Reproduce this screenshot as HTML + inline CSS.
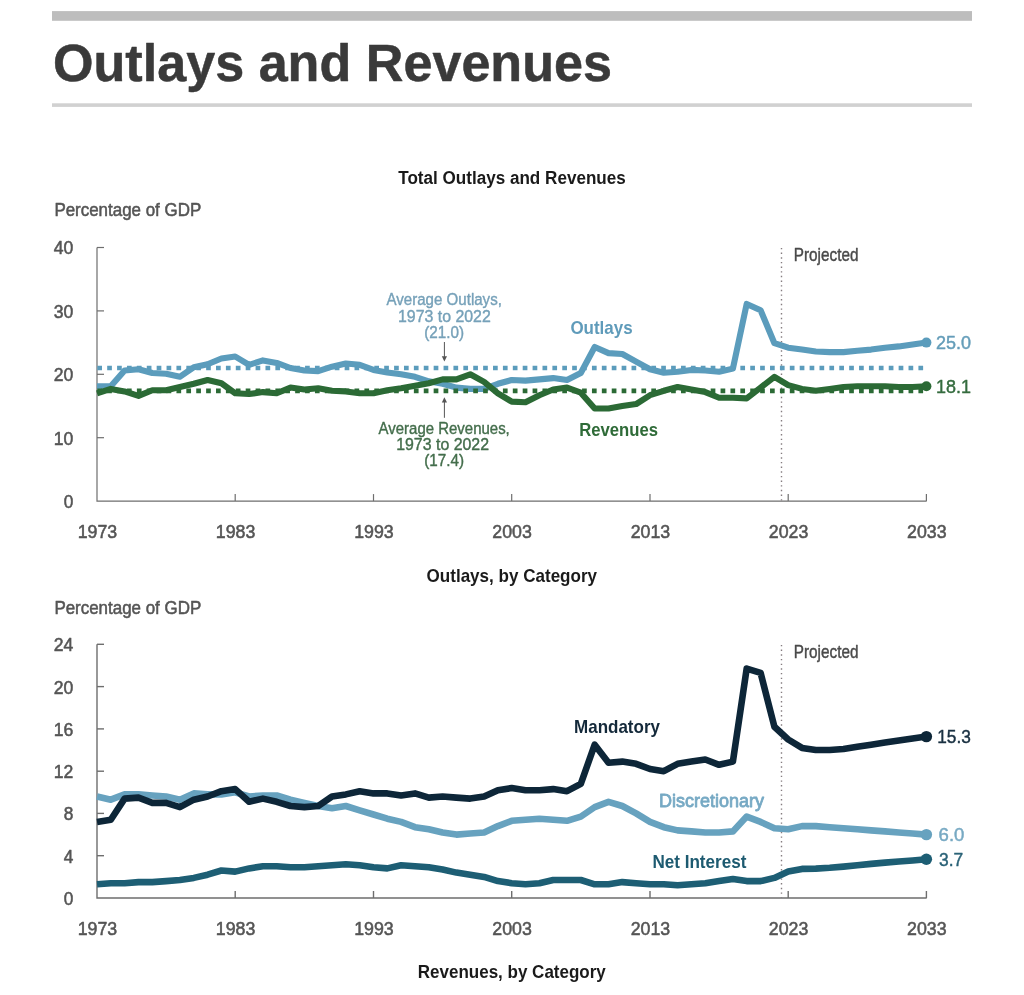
<!DOCTYPE html>
<html lang="en"><head><meta charset="utf-8"><title>Outlays and Revenues</title>
<style>
html,body{margin:0;padding:0;background:#fff;}
body{width:1024px;height:995px;overflow:hidden;position:relative;font-family:"Liberation Sans",Arial,Helvetica,sans-serif;}
svg{position:absolute;left:0;top:0;display:block;}
svg text{font-family:"Liberation Sans",Arial,Helvetica,sans-serif;}
</style></head><body>
<svg width="1024" height="995" viewBox="0 0 1024 995">
<rect x="0" y="0" width="1024" height="995" fill="#ffffff"/>
<rect x="52" y="11.1" width="920" height="9.7" fill="#bdbdbd"/>
<rect x="52" y="103.3" width="920" height="3.6" fill="#d1d1d1"/>
<text x="53" y="80.5" font-size="51" fill="#3a3a3a"  textLength="559" lengthAdjust="spacingAndGlyphs" font-weight="bold"  stroke="#3a3a3a" stroke-width="0.5" stroke-linejoin="round">Outlays and Revenues</text>
<text x="512" y="184" font-size="18" fill="#1a1a1a" text-anchor="middle" textLength="227.5" lengthAdjust="spacingAndGlyphs" font-weight="bold" >Total Outlays and Revenues</text>
<text x="54.4" y="215.7" font-size="18.7" fill="#555555"  textLength="146.8" lengthAdjust="spacingAndGlyphs"   stroke="#555555" stroke-width="0.55" stroke-linejoin="round">Percentage of GDP</text>
<g stroke="#6e6e6e" stroke-width="1.2" fill="none">
<path d="M97.0,247.5 V501.1 H926.7"/>
<path d="M97.0,437.7 h7"/>
<path d="M97.0,374.3 h7"/>
<path d="M97.0,310.9 h7"/>
<path d="M97.0,247.5 h7"/>
<path d="M235.2,501.1 v-7"/>
<path d="M373.5,501.1 v-7"/>
<path d="M511.7,501.1 v-7"/>
<path d="M650.0,501.1 v-7"/>
<path d="M788.2,501.1 v-7"/>
<path d="M926.4,501.1 v-7"/>
</g>
<text x="73.4" y="508.0" font-size="18.7" fill="#555555" text-anchor="end" textLength="9.6" lengthAdjust="spacingAndGlyphs"   stroke="#555555" stroke-width="0.55" stroke-linejoin="round">0</text>
<text x="73.4" y="444.6" font-size="18.7" fill="#555555" text-anchor="end" textLength="19.6" lengthAdjust="spacingAndGlyphs"   stroke="#555555" stroke-width="0.55" stroke-linejoin="round">10</text>
<text x="73.4" y="381.2" font-size="18.7" fill="#555555" text-anchor="end" textLength="19.6" lengthAdjust="spacingAndGlyphs"   stroke="#555555" stroke-width="0.55" stroke-linejoin="round">20</text>
<text x="73.4" y="317.8" font-size="18.7" fill="#555555" text-anchor="end" textLength="19.6" lengthAdjust="spacingAndGlyphs"   stroke="#555555" stroke-width="0.55" stroke-linejoin="round">30</text>
<text x="73.4" y="254.4" font-size="18.7" fill="#555555" text-anchor="end" textLength="19.6" lengthAdjust="spacingAndGlyphs"   stroke="#555555" stroke-width="0.55" stroke-linejoin="round">40</text>
<text x="97.4" y="538.2" font-size="18.7" fill="#555555" text-anchor="middle" textLength="39.5" lengthAdjust="spacingAndGlyphs"   stroke="#555555" stroke-width="0.55" stroke-linejoin="round">1973</text>
<text x="235.6" y="538.2" font-size="18.7" fill="#555555" text-anchor="middle" textLength="39.5" lengthAdjust="spacingAndGlyphs"   stroke="#555555" stroke-width="0.55" stroke-linejoin="round">1983</text>
<text x="373.9" y="538.2" font-size="18.7" fill="#555555" text-anchor="middle" textLength="39.5" lengthAdjust="spacingAndGlyphs"   stroke="#555555" stroke-width="0.55" stroke-linejoin="round">1993</text>
<text x="512.1" y="538.2" font-size="18.7" fill="#555555" text-anchor="middle" textLength="39.5" lengthAdjust="spacingAndGlyphs"   stroke="#555555" stroke-width="0.55" stroke-linejoin="round">2003</text>
<text x="650.4" y="538.2" font-size="18.7" fill="#555555" text-anchor="middle" textLength="39.5" lengthAdjust="spacingAndGlyphs"   stroke="#555555" stroke-width="0.55" stroke-linejoin="round">2013</text>
<text x="788.6" y="538.2" font-size="18.7" fill="#555555" text-anchor="middle" textLength="39.5" lengthAdjust="spacingAndGlyphs"   stroke="#555555" stroke-width="0.55" stroke-linejoin="round">2023</text>
<text x="926.8" y="538.2" font-size="18.7" fill="#555555" text-anchor="middle" textLength="39.5" lengthAdjust="spacingAndGlyphs"   stroke="#555555" stroke-width="0.55" stroke-linejoin="round">2033</text>
<path d="M781.5,247.95 V501.1" stroke="#857d80" stroke-width="1.4" stroke-dasharray="1.4 3.252" fill="none"/>
<text x="793.8" y="261.1" font-size="18.5" fill="#4a4a4a"  textLength="64.6" lengthAdjust="spacingAndGlyphs"   stroke="#4a4a4a" stroke-width="0.45" stroke-linejoin="round">Projected</text>
<path d="M97.3,368.0 H923.2" stroke="#5b9cbc" stroke-width="4.7" stroke-dasharray="4.7 5.193" fill="none"/>
<path d="M97.0,386.3 L110.8,386.3 L124.6,370.5 L138.5,369.2 L152.3,373.0 L166.1,373.7 L179.9,376.8 L193.8,367.3 L207.6,364.2 L221.4,358.5 L235.2,356.5 L249.1,364.8 L262.9,360.4 L276.7,362.9 L290.5,368.0 L304.4,370.5 L318.2,371.1 L332.0,366.7 L345.8,363.5 L359.7,364.8 L373.5,369.9 L387.3,372.4 L401.1,374.3 L415.0,376.8 L428.8,381.3 L442.6,383.8 L456.4,387.6 L470.2,388.9 L484.1,388.9 L497.9,383.8 L511.7,380.0 L525.5,380.6 L539.4,379.4 L553.2,378.1 L567.0,380.0 L580.8,373.0 L594.7,347.0 L608.5,353.1 L622.3,354.0 L636.1,361.6 L650.0,369.2 L663.8,372.7 L677.6,371.8 L691.4,369.9 L705.3,370.5 L719.1,371.8 L732.9,368.6 L746.7,303.9 L760.6,310.3 L774.4,343.2 L788.2,347.7 L802.0,349.6 L815.8,351.5 L829.7,352.1 L843.5,352.1 L857.3,350.8 L871.1,349.6 L885.0,347.7 L898.8,346.4 L912.6,344.5 L926.4,342.6" stroke="#5b9cbc" stroke-width="6.1" fill="none" stroke-linejoin="round" stroke-linecap="butt"/>
<path d="M97.3,390.8 H923.2" stroke="#2b6a35" stroke-width="4.7" stroke-dasharray="4.7 5.193" fill="none"/>
<path d="M97.0,393.3 L110.8,388.9 L124.6,391.4 L138.5,395.9 L152.3,390.2 L166.1,390.2 L179.9,387.0 L193.8,383.8 L207.6,380.0 L221.4,383.2 L235.2,393.3 L249.1,394.0 L262.9,392.1 L276.7,393.3 L290.5,387.6 L304.4,389.5 L318.2,388.2 L332.0,390.8 L345.8,391.4 L359.7,393.3 L373.5,393.3 L387.3,390.2 L401.1,388.2 L415.0,385.7 L428.8,383.2 L442.6,379.4 L456.4,379.4 L470.2,374.3 L484.1,381.9 L497.9,393.3 L511.7,401.6 L525.5,402.2 L539.4,395.2 L553.2,389.5 L567.0,387.6 L580.8,392.7 L594.7,408.5 L608.5,408.5 L622.3,406.0 L636.1,404.1 L650.0,395.2 L663.8,390.8 L677.6,387.0 L691.4,389.5 L705.3,392.1 L719.1,397.8 L732.9,397.8 L746.7,398.4 L760.6,387.6 L774.4,376.8 L788.2,385.1 L802.0,388.9 L815.8,390.8 L829.7,388.9 L843.5,387.0 L857.3,386.3 L871.1,386.3 L885.0,386.3 L898.8,387.0 L912.6,387.0 L926.4,386.3" stroke="#2b6a35" stroke-width="6.1" fill="none" stroke-linejoin="round"/>
<circle cx="926.4" cy="342.6" r="5" fill="#5b9cbc"/>
<circle cx="926.4" cy="386.3" r="5" fill="#2b6a35"/>
<text x="936" y="348.9" font-size="18.6" fill="#649db9"  textLength="35" lengthAdjust="spacingAndGlyphs"   stroke="#649db9" stroke-width="0.45" stroke-linejoin="round">25.0</text>
<text x="936" y="392.7" font-size="18.6" fill="#356c3f"  textLength="35" lengthAdjust="spacingAndGlyphs"   stroke="#356c3f" stroke-width="0.45" stroke-linejoin="round">18.1</text>
<text x="570.4" y="334.2" font-size="18.6" fill="#5f9bba"  textLength="62.2" lengthAdjust="spacingAndGlyphs" font-weight="bold" >Outlays</text>
<text x="579.2" y="435.8" font-size="18.6" fill="#2f6b38"  textLength="78.8" lengthAdjust="spacingAndGlyphs" font-weight="bold" >Revenues</text>
<text x="444.2" y="305.3" font-size="16.9" fill="#76a1b9" text-anchor="middle" textLength="115.4" lengthAdjust="spacingAndGlyphs"   stroke="#76a1b9" stroke-width="0.4" stroke-linejoin="round">Average Outlays,</text>
<text x="444.4" y="322.3" font-size="16.9" fill="#76a1b9" text-anchor="middle" textLength="92.8" lengthAdjust="spacingAndGlyphs"   stroke="#76a1b9" stroke-width="0.4" stroke-linejoin="round">1973 to 2022</text>
<text x="444.2" y="338.3" font-size="16.9" fill="#76a1b9" text-anchor="middle" textLength="39.8" lengthAdjust="spacingAndGlyphs"   stroke="#76a1b9" stroke-width="0.4" stroke-linejoin="round">(21.0)</text>
<text x="444.2" y="433.5" font-size="16.9" fill="#446e4c" text-anchor="middle" textLength="131.2" lengthAdjust="spacingAndGlyphs"   stroke="#446e4c" stroke-width="0.4" stroke-linejoin="round">Average Revenues,</text>
<text x="442.6" y="449.7" font-size="16.9" fill="#446e4c" text-anchor="middle" textLength="92.8" lengthAdjust="spacingAndGlyphs"   stroke="#446e4c" stroke-width="0.4" stroke-linejoin="round">1973 to 2022</text>
<text x="444.2" y="465.5" font-size="16.9" fill="#446e4c" text-anchor="middle" textLength="39.8" lengthAdjust="spacingAndGlyphs"   stroke="#446e4c" stroke-width="0.4" stroke-linejoin="round">(17.4)</text>
<g stroke="#555" stroke-width="1" fill="#555"><path d="M444.4,342 V358" fill="none"/><path d="M441.8,356.2 L444.4,361.6 L447,356.2 Z" stroke="none"/><path d="M444.4,417.8 V401" fill="none"/><path d="M441.8,402.6 L444.4,397.2 L447,402.6 Z" stroke="none"/></g>
<text x="511.8" y="582.2" font-size="18.5" fill="#1a1a1a" text-anchor="middle" textLength="170.5" lengthAdjust="spacingAndGlyphs" font-weight="bold" >Outlays, by Category</text>
<text x="54.4" y="613.9" font-size="18.7" fill="#555555"  textLength="146.8" lengthAdjust="spacingAndGlyphs"   stroke="#555555" stroke-width="0.55" stroke-linejoin="round">Percentage of GDP</text>
<g stroke="#6e6e6e" stroke-width="1.4" fill="none">
<path d="M97.0,644.3 V898.0 H926.7"/>
<path d="M97.0,855.7 h7"/>
<path d="M97.0,813.4 h7"/>
<path d="M97.0,771.2 h7"/>
<path d="M97.0,728.9 h7"/>
<path d="M97.0,686.6 h7"/>
<path d="M97.0,644.3 h7"/>
<path d="M235.2,898.0 v-7"/>
<path d="M373.5,898.0 v-7"/>
<path d="M511.7,898.0 v-7"/>
<path d="M650.0,898.0 v-7"/>
<path d="M788.2,898.0 v-7"/>
<path d="M926.4,898.0 v-7"/>
</g>
<text x="73.4" y="904.9" font-size="18.7" fill="#555555" text-anchor="end" textLength="9.6" lengthAdjust="spacingAndGlyphs"   stroke="#555555" stroke-width="0.55" stroke-linejoin="round">0</text>
<text x="73.4" y="862.6" font-size="18.7" fill="#555555" text-anchor="end" textLength="9.6" lengthAdjust="spacingAndGlyphs"   stroke="#555555" stroke-width="0.55" stroke-linejoin="round">4</text>
<text x="73.4" y="820.3" font-size="18.7" fill="#555555" text-anchor="end" textLength="9.6" lengthAdjust="spacingAndGlyphs"   stroke="#555555" stroke-width="0.55" stroke-linejoin="round">8</text>
<text x="73.4" y="778.1" font-size="18.7" fill="#555555" text-anchor="end" textLength="19.6" lengthAdjust="spacingAndGlyphs"   stroke="#555555" stroke-width="0.55" stroke-linejoin="round">12</text>
<text x="73.4" y="735.8" font-size="18.7" fill="#555555" text-anchor="end" textLength="19.6" lengthAdjust="spacingAndGlyphs"   stroke="#555555" stroke-width="0.55" stroke-linejoin="round">16</text>
<text x="73.4" y="693.5" font-size="18.7" fill="#555555" text-anchor="end" textLength="19.6" lengthAdjust="spacingAndGlyphs"   stroke="#555555" stroke-width="0.55" stroke-linejoin="round">20</text>
<text x="73.4" y="651.2" font-size="18.7" fill="#555555" text-anchor="end" textLength="19.6" lengthAdjust="spacingAndGlyphs"   stroke="#555555" stroke-width="0.55" stroke-linejoin="round">24</text>
<text x="97.4" y="935.1" font-size="18.7" fill="#555555" text-anchor="middle" textLength="39.5" lengthAdjust="spacingAndGlyphs"   stroke="#555555" stroke-width="0.55" stroke-linejoin="round">1973</text>
<text x="235.6" y="935.1" font-size="18.7" fill="#555555" text-anchor="middle" textLength="39.5" lengthAdjust="spacingAndGlyphs"   stroke="#555555" stroke-width="0.55" stroke-linejoin="round">1983</text>
<text x="373.9" y="935.1" font-size="18.7" fill="#555555" text-anchor="middle" textLength="39.5" lengthAdjust="spacingAndGlyphs"   stroke="#555555" stroke-width="0.55" stroke-linejoin="round">1993</text>
<text x="512.1" y="935.1" font-size="18.7" fill="#555555" text-anchor="middle" textLength="39.5" lengthAdjust="spacingAndGlyphs"   stroke="#555555" stroke-width="0.55" stroke-linejoin="round">2003</text>
<text x="650.4" y="935.1" font-size="18.7" fill="#555555" text-anchor="middle" textLength="39.5" lengthAdjust="spacingAndGlyphs"   stroke="#555555" stroke-width="0.55" stroke-linejoin="round">2013</text>
<text x="788.6" y="935.1" font-size="18.7" fill="#555555" text-anchor="middle" textLength="39.5" lengthAdjust="spacingAndGlyphs"   stroke="#555555" stroke-width="0.55" stroke-linejoin="round">2023</text>
<text x="926.8" y="935.1" font-size="18.7" fill="#555555" text-anchor="middle" textLength="39.5" lengthAdjust="spacingAndGlyphs"   stroke="#555555" stroke-width="0.55" stroke-linejoin="round">2033</text>
<path d="M781.5,644.95 V898.0" stroke="#857d80" stroke-width="1.4" stroke-dasharray="1.4 3.27" fill="none"/>
<text x="793.8" y="657.5" font-size="18.5" fill="#4a4a4a"  textLength="64.6" lengthAdjust="spacingAndGlyphs"   stroke="#4a4a4a" stroke-width="0.45" stroke-linejoin="round">Projected</text>
<path d="M97.0,796.5 L110.8,799.7 L124.6,794.4 L138.5,794.4 L152.3,795.5 L166.1,796.5 L179.9,799.7 L193.8,793.4 L207.6,794.4 L221.4,794.4 L235.2,792.3 L249.1,796.5 L262.9,795.5 L276.7,795.5 L290.5,799.7 L304.4,802.9 L318.2,806.0 L332.0,808.2 L345.8,806.0 L359.7,810.3 L373.5,814.5 L387.3,818.7 L401.1,821.9 L415.0,827.2 L428.8,829.3 L442.6,832.5 L456.4,834.6 L470.2,833.5 L484.1,832.5 L497.9,826.1 L511.7,820.8 L525.5,819.8 L539.4,818.7 L553.2,819.8 L567.0,820.8 L580.8,816.6 L594.7,807.1 L608.5,801.8 L622.3,806.0 L636.1,813.4 L650.0,821.9 L663.8,827.2 L677.6,830.4 L691.4,831.4 L705.3,832.5 L719.1,832.5 L732.9,831.4 L746.7,816.6 L760.6,821.9 L774.4,828.2 L788.2,829.3 L802.0,826.1 L815.8,826.1 L829.7,827.2 L843.5,828.2 L857.3,829.3 L871.1,830.4 L885.0,831.4 L898.8,832.5 L912.6,833.5 L926.4,834.6" stroke="#67a2bf" stroke-width="6.6" fill="none" stroke-linejoin="round"/>
<path d="M97.0,884.3 L110.8,883.2 L124.6,883.2 L138.5,882.1 L152.3,882.1 L166.1,881.1 L179.9,880.0 L193.8,877.9 L207.6,874.7 L221.4,870.5 L235.2,871.6 L249.1,868.4 L262.9,866.3 L276.7,866.3 L290.5,867.3 L304.4,867.3 L318.2,866.3 L332.0,865.2 L345.8,864.2 L359.7,865.2 L373.5,867.3 L387.3,868.4 L401.1,865.2 L415.0,866.3 L428.8,867.3 L442.6,869.5 L456.4,872.6 L470.2,874.7 L484.1,876.9 L497.9,881.1 L511.7,883.2 L525.5,884.3 L539.4,883.2 L553.2,880.0 L567.0,880.0 L580.8,880.0 L594.7,884.3 L608.5,884.3 L622.3,882.1 L636.1,883.2 L650.0,884.3 L663.8,884.3 L677.6,885.3 L691.4,884.3 L705.3,883.2 L719.1,881.1 L732.9,879.0 L746.7,881.1 L760.6,881.1 L774.4,877.9 L788.2,871.6 L802.0,868.9 L815.8,868.6 L829.7,867.8 L843.5,866.6 L857.3,865.2 L871.1,863.9 L885.0,862.6 L898.8,861.5 L912.6,860.5 L926.4,859.3" stroke="#1d5e74" stroke-width="6.6" fill="none" stroke-linejoin="round"/>
<path d="M97.0,821.9 L110.8,819.8 L124.6,798.6 L138.5,797.6 L152.3,802.9 L166.1,802.9 L179.9,807.1 L193.8,799.7 L207.6,796.5 L221.4,791.2 L235.2,789.1 L249.1,801.8 L262.9,798.6 L276.7,801.8 L290.5,806.0 L304.4,807.1 L318.2,806.0 L332.0,796.5 L345.8,794.4 L359.7,791.2 L373.5,793.4 L387.3,793.4 L401.1,795.5 L415.0,793.4 L428.8,797.6 L442.6,796.5 L456.4,797.6 L470.2,798.6 L484.1,796.5 L497.9,790.2 L511.7,788.1 L525.5,790.2 L539.4,790.2 L553.2,789.1 L567.0,791.2 L580.8,783.8 L594.7,744.7 L608.5,762.7 L622.3,761.6 L636.1,763.8 L650.0,769.0 L663.8,771.2 L677.6,763.8 L691.4,761.6 L705.3,759.5 L719.1,764.8 L732.9,761.6 L746.7,668.6 L760.6,672.9 L774.4,726.8 L788.2,739.5 L802.0,747.9 L815.8,750.0 L829.7,750.0 L843.5,749.0 L857.3,746.8 L871.1,744.7 L885.0,742.6 L898.8,740.5 L912.6,738.4 L926.4,736.6" stroke="#0d2638" stroke-width="6.6" fill="none" stroke-linejoin="round"/>
<circle cx="926.4" cy="736.6" r="5.7" fill="#0d2638"/>
<circle cx="926.4" cy="834.6" r="5.7" fill="#67a2bf"/>
<circle cx="926.4" cy="859.3" r="5.7" fill="#1d5e74"/>
<text x="937.2" y="743.3" font-size="18.6" fill="#1a3142"  textLength="33.6" lengthAdjust="spacingAndGlyphs"   stroke="#1a3142" stroke-width="0.45" stroke-linejoin="round">15.3</text>
<text x="938.6" y="841.2" font-size="18.6" fill="#77a9c3"  textLength="25.8" lengthAdjust="spacingAndGlyphs"   stroke="#77a9c3" stroke-width="0.45" stroke-linejoin="round">6.0</text>
<text x="939" y="865.6" font-size="18.6" fill="#2a6277"  textLength="24.2" lengthAdjust="spacingAndGlyphs"   stroke="#2a6277" stroke-width="0.45" stroke-linejoin="round">3.7</text>
<text x="574" y="733.2" font-size="18.5" fill="#14293a"  textLength="86" lengthAdjust="spacingAndGlyphs" font-weight="bold" >Mandatory</text>
<text x="659" y="806.7" font-size="18.4" fill="#76a9c4"  textLength="105" lengthAdjust="spacingAndGlyphs"   stroke="#76a9c4" stroke-width="0.8" stroke-linejoin="round">Discretionary</text>
<text x="652.4" y="868.2" font-size="18.5" fill="#1d5a70"  textLength="94" lengthAdjust="spacingAndGlyphs" font-weight="bold" >Net Interest</text>
<text x="511.8" y="978.4" font-size="18.5" fill="#1a1a1a" text-anchor="middle" textLength="188" lengthAdjust="spacingAndGlyphs" font-weight="bold" >Revenues, by Category</text>
</svg></body></html>
